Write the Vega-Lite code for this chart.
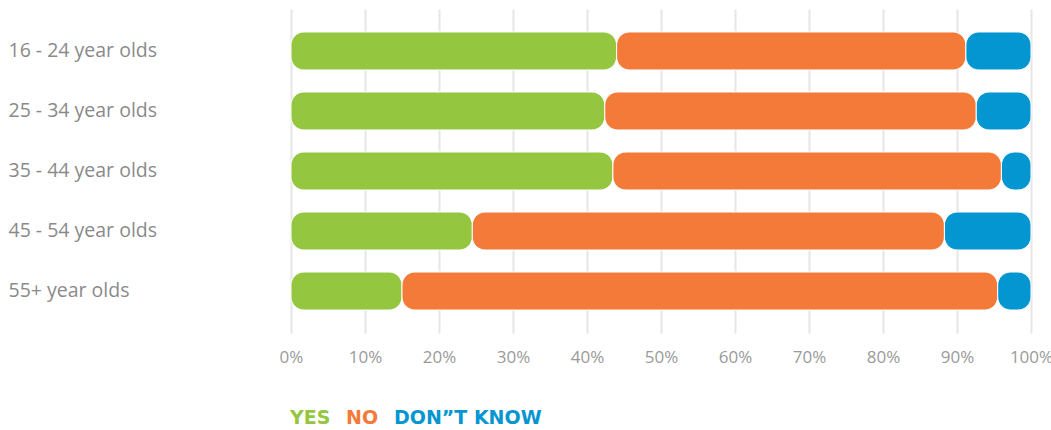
{
  "$schema": "https://vega.github.io/schema/vega-lite/v6.json",
  "width": 740,
  "height": 324,
  "padding": {"left": 8, "top": 9, "right": 10, "bottom": 0},
  "background": "white",
  "config": {
    "view": {"stroke": null},
    "font": "Open Sans"
  },
  "data": {
    "values": [
      {"age": "16 - 24 year olds", "answer": "YES", "order": 1, "pct": 44.0},
      {"age": "16 - 24 year olds", "answer": "NO", "order": 2, "pct": 47.2},
      {"age": "16 - 24 year olds", "answer": "DON”T KNOW", "order": 3, "pct": 8.8},
      {"age": "25 - 34 year olds", "answer": "YES", "order": 1, "pct": 42.4},
      {"age": "25 - 34 year olds", "answer": "NO", "order": 2, "pct": 50.2},
      {"age": "25 - 34 year olds", "answer": "DON”T KNOW", "order": 3, "pct": 7.4},
      {"age": "35 - 44 year olds", "answer": "YES", "order": 1, "pct": 43.5},
      {"age": "35 - 44 year olds", "answer": "NO", "order": 2, "pct": 52.5},
      {"age": "35 - 44 year olds", "answer": "DON”T KNOW", "order": 3, "pct": 4.0},
      {"age": "45 - 54 year olds", "answer": "YES", "order": 1, "pct": 24.5},
      {"age": "45 - 54 year olds", "answer": "NO", "order": 2, "pct": 63.8},
      {"age": "45 - 54 year olds", "answer": "DON”T KNOW", "order": 3, "pct": 11.7},
      {"age": "55+ year olds", "answer": "YES", "order": 1, "pct": 15.0},
      {"age": "55+ year olds", "answer": "NO", "order": 2, "pct": 80.5},
      {"age": "55+ year olds", "answer": "DON”T KNOW", "order": 3, "pct": 4.5}
    ]
  },
  "transform": [
    {"stack": "pct", "groupby": ["age"], "sort": [{"field": "order", "order": "ascending"}], "as": ["x0", "x1"]}
  ],
  "mark": {"type": "bar", "cornerRadius": 13, "stroke": "white", "strokeWidth": 1},
  "encoding": {
    "y": {
      "field": "age",
      "type": "nominal",
      "sort": null,
      "scale": {"paddingInner": 0.367, "paddingOuter": 0.383},
      "axis": {
        "title": null,
        "domain": false,
        "ticks": false,
        "tickSize": 0,
        "labelAlign": "left",
        "labelPadding": 283,
        "labelFontSize": 19.5,
        "labelColor": "#8a8a8a",
        "labelFont": "Open Sans"
      }
    },
    "x": {
      "field": "x0",
      "type": "quantitative",
      "scale": {"domain": [0, 100], "nice": false},
      "axis": {
        "title": null,
        "domain": false,
        "ticks": false,
        "tickSize": 0,
        "values": [0, 10, 20, 30, 40, 50, 60, 70, 80, 90, 100],
        "labelExpr": "datum.value + '%'",
        "labelPadding": 16,
        "labelFontSize": 17,
        "labelColor": "#9a9a9a",
        "labelFont": "Open Sans",
        "grid": true,
        "gridColor": "#e6e6e6",
        "gridWidth": 2,
        "labelFlush": false
      }
    },
    "x2": {"field": "x1"},
    "color": {
      "field": "answer",
      "type": "nominal",
      "sort": ["YES", "NO", "DON”T KNOW"],
      "scale": {"domain": ["YES", "NO", "DON”T KNOW"], "range": ["#94c63f", "#f37a39", "#0496d1"]},
      "legend": {
        "title": null,
        "orient": "none",
        "legendX": -13,
        "legendY": 399,
        "direction": "horizontal",
        "symbolSize": 0,
        "symbolStrokeWidth": 0,
        "symbolOpacity": 0,
        "labelOffset": -7,
        "columnPadding": 3,
        "labelFontSize": 19,
        "labelFontWeight": "bold",
        "labelFont": "DejaVu Sans",
        "labelLimit": 300,
        "labelColor": {"expr": "scale('color', datum.value)"}
      }
    }
  }
}
